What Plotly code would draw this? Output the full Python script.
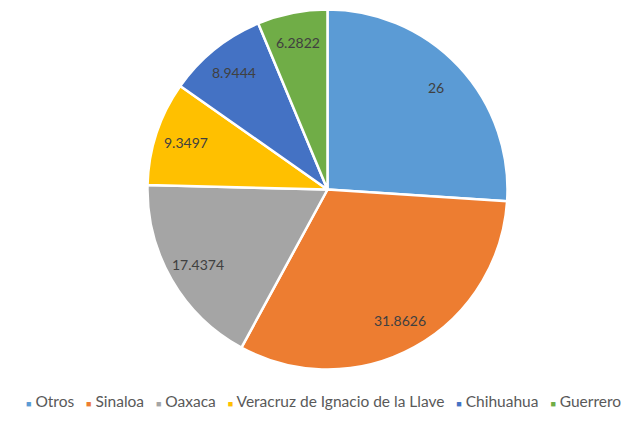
import math
import plotly.graph_objects as go

categories = ["Otros", "Sinaloa", "Oaxaca", "Veracruz de Ignacio de la Llave", "Chihuahua", "Guerrero"]
values = [26, 31.8626, 17.4374, 9.3497, 8.9444, 6.2822]
colors = ["#5B9BD5", "#ED7D31", "#A5A5A5", "#FFC000", "#4472C4", "#70AD47"]

W, H = 639, 427
dom_x = [0.2308, 0.7942]
dom_y = [0.1347, 0.9778]

fig = go.Figure(go.Pie(
    labels=categories,
    values=values,
    sort=False,
    direction="clockwise",
    rotation=0,
    marker=dict(colors=colors, line=dict(color="white", width=2.5)),
    textinfo="none",
    domain=dict(x=dom_x, y=dom_y),
    hoverinfo="label+value",
    showlegend=False,
))

# data labels placed along each slice's mid-angle (Excel-like "best fit")
cx = (dom_x[0] + dom_x[1]) / 2 * W
cy = (dom_y[0] + dom_y[1]) / 2 * H
r = min((dom_x[1] - dom_x[0]) * W, (dom_y[1] - dom_y[0]) * H) / 2
total = sum(values)
cum = 0.0
for v in values:
    mid = (cum + v / 2) / total * 2 * math.pi
    cum += v
    f = 0.83
    px = cx + f * r * math.sin(mid)
    py = cy + f * r * math.cos(mid)
    fig.add_annotation(
        x=px / W, y=py / H, xref="paper", yref="paper",
        text=str(v), showarrow=False,
        font=dict(size=14, color="#404040", family="Lato"),
        xanchor="center", yanchor="middle",
    )

# legend drawn as text
sp = "\u00a0"
parts = []
for c, lab in zip(colors, categories):
    parts.append(f"<span style='color:{c};font-size:9px'>■</span>{sp}{lab}")
legend_text = (sp * 3).join(parts)
fig.add_annotation(
    x=(26 + 620) / 2 / W, y=1 - 401 / H, xref="paper", yref="paper",
    text=legend_text, showarrow=False,
    font=dict(size=15.5, color="#595959", family="Lato"),
    xanchor="center", yanchor="middle",
)

fig.update_layout(
    width=W, height=H,
    margin=dict(l=0, r=0, t=0, b=0),
    paper_bgcolor="white",
    plot_bgcolor="white",
    font=dict(family="Lato"),
)

fig.write_html("out.html", config={"displayModeBar": False},
               post_script="document.body.style.margin='0';")
